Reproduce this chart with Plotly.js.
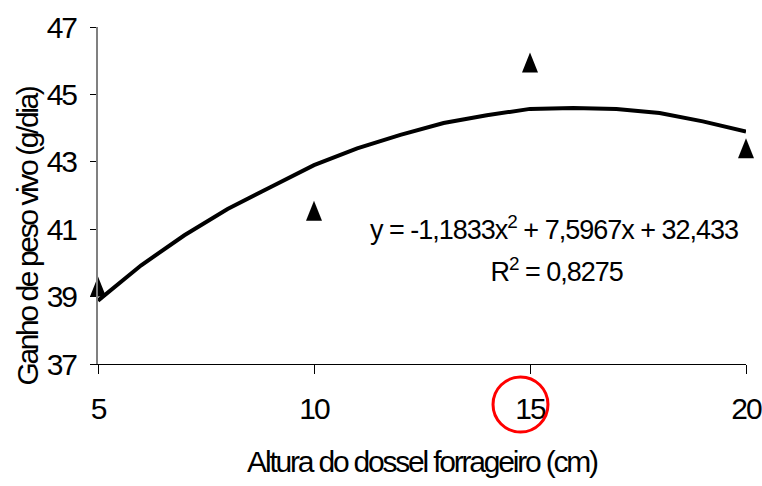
<!DOCTYPE html>
<html>
<head>
<meta charset="utf-8">
<script src="https://cdn.plot.ly/plotly-3.0.1.min.js"></script>
<style>
  html, body { margin: 0; padding: 0; background: #fff; }
  #chart { width: 762px; height: 486px; }
  #chart .xtick text, #chart .ytick text { letter-spacing: -2px; }
  #chart .g-xtitle text { letter-spacing: -2.2px; }
  #chart .annotation-text { letter-spacing: -1px; }
</style>
</head>
<body>
<div id="chart"></div>
<script>
// Observed data (Altura do dossel forrageiro, cm) vs Ganho de peso vivo (g/dia)
const heights = [5, 10, 15, 20];
const gains = [39.3, 41.55, 45.95, 43.4];

// Trend curve
const trendX = [5, 6, 7, 8, 9, 10, 11, 12, 13, 14, 15, 16, 17, 18, 19, 20];
const trendY = [38.88, 39.93, 40.82, 41.6, 42.25, 42.9, 43.4, 43.8, 44.15, 44.38, 44.57, 44.6, 44.57, 44.45, 44.2, 43.9];

const xTicks = [5, 10, 15, 20];
const yTicks = [37, 39, 41, 43, 45, 47];

const xTitle = 'Altura do dossel forrageiro (cm)';
const yTitle = 'Ganho de peso vivo (g/dia)';
const eqText = 'y = -1,1833x<sup>2</sup> + 7,5967x + 32,433';
const r2Text = 'R<sup>2</sup> = 0,8275';

const FONT = 'Arial, "Liberation Sans", sans-serif';

const traces = [
  {
    x: trendX, y: trendY, type: 'scatter', mode: 'lines',
    line: { color: '#000', width: 4 },
    hoverinfo: 'skip', showlegend: false
  },
  {
    x: heights, y: gains, type: 'scatter', mode: 'markers',
    marker: { symbol: 'triangle-up', size: 17, color: '#000' },
    cliponaxis: false, showlegend: false
  }
];

const layout = {
  width: 762, height: 486,
  margin: { l: 98, r: 16, t: 27, b: 122 },
  paper_bgcolor: '#fff', plot_bgcolor: '#fff',
  font: { family: FONT, color: '#000', size: 30 },
  showlegend: false,
  xaxis: {
    range: [5, 20], tickvals: xTicks, ticktext: xTicks.map(String),
    showgrid: false, zeroline: false,
    showline: true, linecolor: '#000', linewidth: 1,
    ticks: 'outside', ticklen: 9, tickcolor: '#000', tickwidth: 1,
    ticklabelstandoff: 9, ticklabeloverflow: 'allow',
    tickfont: { family: FONT, size: 30, color: '#000' },
    title: { text: xTitle, font: { family: FONT, size: 30, color: '#000' }, standoff: 26 }
  },
  xaxis2: {
    overlaying: 'x', range: [5, 20], tickvals: xTicks,
    showticklabels: false, showgrid: false, zeroline: false, showline: false,
    ticks: 'inside', ticklen: 9, tickcolor: '#000', tickwidth: 1
  },
  yaxis: {
    range: [37, 47], tickvals: yTicks, ticktext: yTicks.map(String),
    showgrid: false, zeroline: false,
    showline: true, linecolor: '#808080', linewidth: 2,
    ticks: 'outside', ticklen: 6, tickcolor: '#000', tickwidth: 1,
    ticklabelstandoff: 8, ticklabeloverflow: 'allow',
    tickfont: { family: FONT, size: 30, color: '#000' }
  },
  yaxis2: {
    overlaying: 'y', range: [37, 47], tickvals: yTicks,
    showticklabels: false, showgrid: false, zeroline: false, showline: false,
    ticks: 'inside', ticklen: 7, tickcolor: '#000', tickwidth: 1
  },
  annotations: [
    {
      text: yTitle, textangle: -90, xref: 'paper', yref: 'paper',
      x: -0.108, y: 0.378, xanchor: 'center', yanchor: 'middle',
      showarrow: false, font: { family: FONT, size: 30, color: '#000' }
    },
    {
      text: eqText, xref: 'paper', yref: 'paper',
      x: 0.703, y: 0.405, xanchor: 'center', yanchor: 'middle',
      showarrow: false, font: { family: FONT, size: 27, color: '#000' }
    },
    {
      text: r2Text, xref: 'paper', yref: 'paper',
      x: 0.707, y: 0.279, xanchor: 'center', yanchor: 'middle',
      showarrow: false, font: { family: FONT, size: 27, color: '#000' }
    }
  ],
  shapes: [
    {
      type: 'circle', xref: 'paper', yref: 'paper',
      x0: 0.6096, x1: 0.6944, y0: -0.2018, y1: -0.0386,
      line: { color: '#ff0000', width: 3 }, fillcolor: 'rgba(0,0,0,0)'
    }
  ]
};

Plotly.newPlot('chart', traces, layout, { staticPlot: true, displayModeBar: false }).then(function () {
  // y-axis title annotation: tighter tracking like the reference
  const anns = document.querySelectorAll('#chart .annotation');
  if (anns[0]) {
    const t = anns[0].querySelector('text');
    if (t) t.style.letterSpacing = '-2.4px';
  }
  // reshape triangle markers to the taller, narrower triangle of the reference
  const traceGroups = document.querySelectorAll('#chart .scatterlayer .trace');
  const markerTrace = traceGroups[1];
  if (markerTrace) {
    markerTrace.querySelectorAll('path.point').forEach(function (p) {
      p.setAttribute('d', 'M-8,10H8L0,-10Z');
    });
  }
});
</script>
</body>
</html>
